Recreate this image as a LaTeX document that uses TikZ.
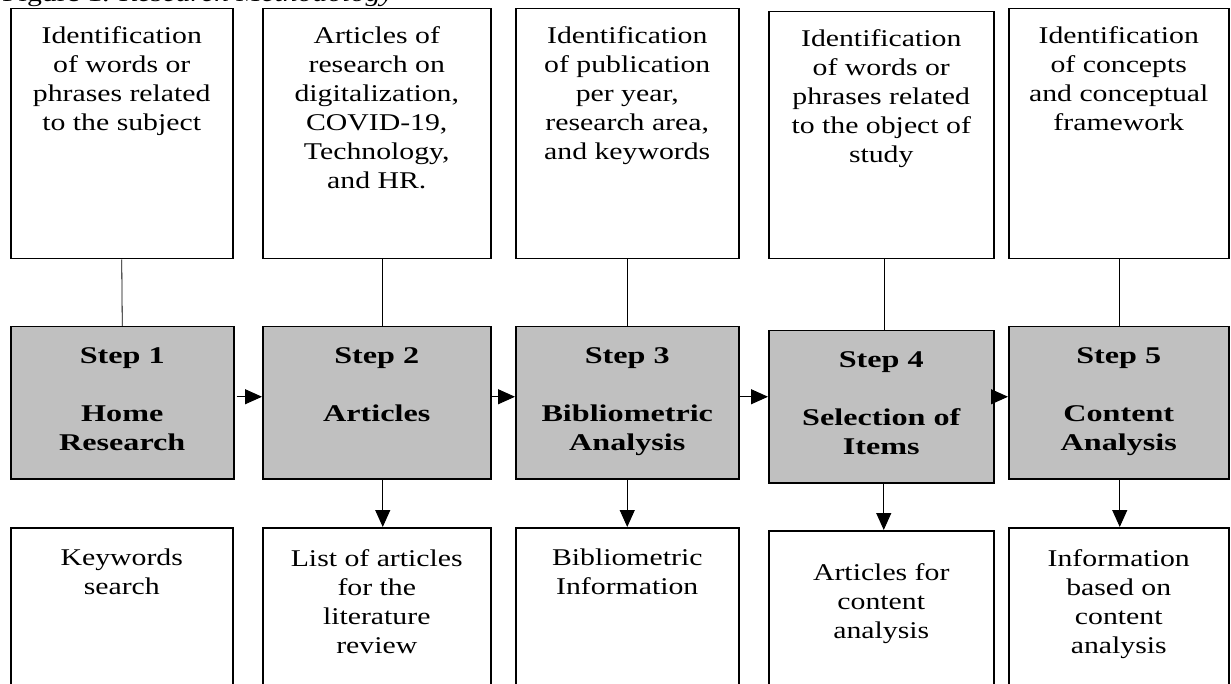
\documentclass[tikz,border=0pt]{standalone}
\usepackage{fontspec}
\setmainfont{Liberation Serif}[FakeStretch=1.24]
\newfontfamily\stepfont{Liberation Serif}[FakeStretch=1.34]
\usetikzlibrary{arrows.meta}
\definecolor{stepgray}{HTML}{C0C0C0}
\tikzset{
  box/.style={draw, line width=1.5pt, rectangle, anchor=north west, inner sep=0pt, minimum height=#1},
  box/.default=250pt,
  stepbox/.style={box=152pt, fill=stepgray},
  txt/.style={anchor=north, inner sep=0pt, align=center, font=\fontsize{24}{29}\selectfont},
  steptxt/.style={anchor=north, inner sep=0pt, align=center, font=\fontsize{24}{29}\selectfont\stepfont\bfseries},
  link/.style={line width=0.8pt},
  arr/.style={line width=1pt, -{Triangle[length=17pt,width=15pt]}}
}
\begin{document}
\begin{tikzpicture}[x=1pt,y=-1pt]
\useasboundingbox (0,0) rectangle (1231,684);
\clip (0,0) rectangle (1231,684);

% caption (cropped at the top, as in the reference)
\node[anchor=base west, inner sep=0pt, font=\fontsize{24}{29}\selectfont] (cap) at (2,1.5) {Figure 1. \textit{Research Methodology}};

% top boxes
\node[box, minimum width=222pt] (t1) at (10,8) {};
\node[box, minimum width=228pt] (t2) at (262,8) {};
\node[box, minimum width=223pt] (t3) at (515,8) {};
\node[box=247pt, minimum width=225pt] (t4) at (768,11) {};
\node[box, minimum width=220pt] (t5) at (1008,8) {};

\node[txt] (t1x) at ([yshift=-18pt]t1.north) {Identification\\of words or\\phrases related\\to the subject};
\node[txt] (t2x) at ([yshift=-18pt]t2.north) {Articles of\\research on\\digitalization,\\COVID-19,\\Technology,\\and HR.};
\node[txt] (t3x) at ([yshift=-18pt]t3.north) {Identification\\of publication\\per year,\\research area,\\and keywords};
\node[txt] (t4x) at ([yshift=-18pt]t4.north) {Identification\\of words or\\phrases related\\to the object of\\study};
\node[txt] (t5x) at ([yshift=-18pt]t5.north) {Identification\\of concepts\\and conceptual\\framework};

% step boxes
\node[stepbox, minimum width=223pt] (s1) at (10,326) {};
\node[stepbox, minimum width=228pt] (s2) at (262,326) {};
\node[stepbox, minimum width=223pt] (s3) at (515,326) {};
\node[stepbox, minimum width=225pt] (s4) at (768,330) {};
\node[stepbox, minimum width=220pt] (s5) at (1008,326) {};

\node[steptxt] (s1x) at ([yshift=-21pt]s1.north) {Step 1\\[29pt]Home\\Research};
\node[steptxt] (s2x) at ([yshift=-21pt]s2.north) {Step 2\\[29pt]Articles};
\node[steptxt] (s3x) at ([yshift=-21pt]s3.north) {Step 3\\[29pt]Bibliometric\\Analysis};
\node[steptxt] (s4x) at ([yshift=-21pt]s4.north) {Step 4\\[29pt]Selection of\\Items};
\node[steptxt] (s5x) at ([yshift=-21pt]s5.north) {Step 5\\[29pt]Content\\Analysis};

% bottom boxes (cropped at the bottom)
\node[box=200pt, minimum width=222pt] (b1) at (10,527) {};
\node[box=200pt, minimum width=228pt] (b2) at (262,527) {};
\node[box=200pt, minimum width=223pt] (b3) at (515,527) {};
\node[box=200pt, minimum width=225pt] (b4) at (768,530) {};
\node[box=200pt, minimum width=220pt] (b5) at (1008,527) {};

\node[txt] (b1x) at ([yshift=-22pt]b1.north) {Keywords\\search};
\node[txt] (b2x) at ([yshift=-22pt]b2.north) {List of articles\\for the\\literature\\review};
\node[txt] (b3x) at ([yshift=-22pt]b3.north) {Bibliometric\\Information};
\node[txt] (b4x) at ([yshift=-33pt]b4.north) {Articles for\\content\\analysis};
\node[txt] (b5x) at ([yshift=-22pt]b5.north) {Information\\based on\\content\\analysis};

% vertical links top -> step
\draw[link] (t1.south) -- (s1.north);
\draw[link] ([xshift=6pt]t2.south) -- ([xshift=6pt]s2.north);
\draw[link] (t3.south) -- (s3.north);
\draw[link] ([xshift=3.5pt]t4.south) -- ([xshift=3.5pt]s4.north);
\draw[link] ([xshift=1pt]t5.south) -- ([xshift=1pt]s5.north);

% horizontal arrows between steps
\draw[arr, shorten <=2pt] ([yshift=6pt]s1.east) -- ([yshift=6pt]s2.west);
\draw[arr] ([yshift=6pt]s2.east) -- ([yshift=6pt]s3.west);
\draw[arr] ([yshift=6pt]s3.east) -- ([yshift=10pt]s4.west);
\draw[arr, shorten <=-6pt] ([yshift=10pt]s4.east) -- ([yshift=6pt]s5.west);

% down arrows step -> bottom
\draw[arr] ([xshift=6pt]s2.south) -- ([xshift=6pt]b2.north);
\draw[arr] (s3.south) -- (b3.north);
\draw[arr] ([xshift=2.5pt]s4.south) -- ([xshift=2.5pt]b4.north);
\draw[arr] ([xshift=1pt]s5.south) -- ([xshift=1pt]b5.north);
\end{tikzpicture}
\end{document}
